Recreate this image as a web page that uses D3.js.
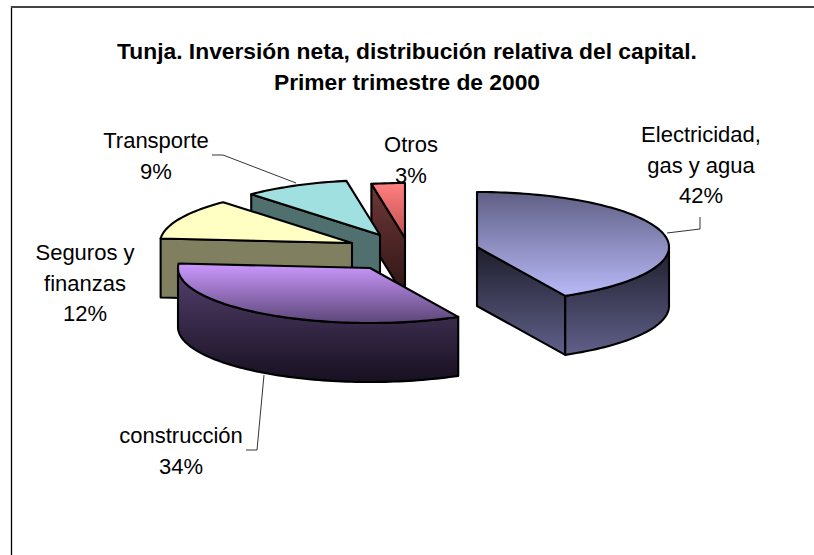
<!DOCTYPE html>
<html>
<head>
<meta charset="utf-8">
<script src="https://cdn.jsdelivr.net/npm/d3@7"></script>
<style>
  html, body { margin: 0; padding: 0; background: #fff; }
  svg { display: block; }
  text { font-family: "Liberation Sans", Arial, sans-serif; fill: #000; }
</style>
</head>
<body>
<div id="chart"></div>
<script>
// data
var categories = ["Electricidad, gas y agua", "construcción", "Seguros y finanzas", "Transporte", "Otros"];
var shares = [42.4, 33.9, 12, 8.9, 2.8];
var titleLines = ["Tunja. Inversión neta, distribución relativa del capital.", "Primer trimestre de 2000"];

// where each exploded slice has its vertex on the page
var sliceCenters = [[477, 247], [370, 268], [352, 243], [380, 235], [405, 238]];

// gradient stops: [top face top, top face bottom, wall top, wall bottom]
var sliceColors = [
  ["#5f5f85", "#b9b9f8", "#1e1e2c", "#60608a"],
  ["#cc99ff", "#5c4678", "#55406e", "#171020"],
  ["#ffffc4", "#ffffc4", "#808060", "#808060"],
  ["#a0e0e0", "#a0e0e0", "#507070", "#507070"],
  ["#ff8080", "#c05050", "#703838", "#2c1414"]
];

// labels and leader lines, one per slice
var labelLines = [
  ["Electricidad,", "gas y agua", "42%"],
  ["construcción", "34%"],
  ["Seguros y", "finanzas", "12%"],
  ["Transporte", "9%"],
  ["Otros", "3%"]
];
var labelAnchors = [[701, 142], [181, 443], [85, 260], [156, 148], [411, 152]];
var leaders = [
  [[700, 217], [700, 229], [667, 233]],
  [[246, 450], [257, 450], [264, 375]],
  [],
  [[212, 155], [223, 155], [296, 183]],
  []
];

var width = 814, height = 555;
var rx = 192, ry = 55, depth = 59;

var svg = d3.select("#chart").append("svg")
  .attr("width", width)
  .attr("height", height);

// frame of the chart area, only top and left are in the picture
svg.append("line").attr("x1", 11.5).attr("x2", 11.5).attr("y1", 6).attr("y2", height)
  .attr("stroke", "#000").attr("stroke-width", 1.3);
svg.append("line").attr("x1", 11).attr("x2", width).attr("y1", 7).attr("y2", 7)
  .attr("stroke", "#444").attr("stroke-width", 2);

svg.selectAll(".title")
  .data(titleLines)
  .enter()
  .append("text")
  .attr("class", "title")
  .attr("x", 407)
  .attr("y", function(d, i) { return 59 + i * 31; })
  .attr("text-anchor", "middle")
  .attr("font-size", "22.8px")
  .attr("font-weight", "bold")
  .text(function(d) { return d; });

var pie = d3.pie().sort(null).value(function(d) { return d; });
var arcs = pie(shares);

// angle 0 is up, going clockwise, squashed by the tilt of the pie
function project(center, angle, dy) {
  return [center[0] + rx * Math.sin(angle), center[1] - ry * Math.cos(angle) + dy];
}

function arcPoints(center, a0, a1, dy) {
  var n = Math.max(2, Math.ceil((a1 - a0) * 40));
  return d3.range(n + 1).map(function(i) {
    return project(center, a0 + (a1 - a0) * i / n, dy);
  });
}

var line = d3.line();
var defs = svg.append("defs");

function gradient(id, top, bottom) {
  var g = defs.append("linearGradient").attr("id", id)
    .attr("x1", 0).attr("y1", 0).attr("x2", 0).attr("y2", 1);
  g.append("stop").attr("offset", "0%").attr("stop-color", top);
  g.append("stop").attr("offset", "100%").attr("stop-color", bottom);
}

function strokeFace(pts, fill) {
  svg.append("path")
    .attr("d", line(pts) + "Z")
    .attr("fill", fill)
    .attr("stroke", "#000")
    .attr("stroke-width", 2.1)
    .attr("stroke-linejoin", "round");
}

// leader lines go under the pie
leaders.forEach(function(pts) {
  if (!pts.length) return;
  svg.append("path").attr("d", line(pts)).attr("fill", "none").attr("stroke", "#000").attr("stroke-width", 0.8);
});

// back slices first so that the front ones cover them
var drawOrder = [4, 3, 2, 1, 0];
drawOrder.forEach(function(i) {
  var d = arcs[i], c = sliceCenters[i], col = sliceColors[i];
  gradient("top" + i, col[0], col[1]);
  gradient("wall" + i, col[2], col[3]);
  var wallFill = "url(#wall" + i + ")";

  // radial cut faces, only the ones looking at the viewer
  if (Math.sin(d.startAngle) < -1e-6) {
    var s0 = project(c, d.startAngle, 0);
    strokeFace([c, s0, [s0[0], s0[1] + depth], [c[0], c[1] + depth]], wallFill);
  }
  if (Math.sin(d.endAngle) > 1e-6) {
    var e0 = project(c, d.endAngle, 0);
    strokeFace([c, e0, [e0[0], e0[1] + depth], [c[0], c[1] + depth]], wallFill);
  }

  // outer wall, the front half of the rim
  var from = Math.max(d.startAngle, Math.PI / 2), to = Math.min(d.endAngle, Math.PI * 3 / 2);
  if (to > from) {
    strokeFace(arcPoints(c, from, to, 0).concat(arcPoints(c, from, to, depth).reverse()), wallFill);
  }

  strokeFace([c].concat(arcPoints(c, d.startAngle, d.endAngle, 0)), "url(#top" + i + ")");
});

// data labels
labelLines.forEach(function(lines, i) {
  svg.append("g").selectAll("text")
    .data(lines)
    .enter()
    .append("text")
    .attr("x", labelAnchors[i][0])
    .attr("y", function(d, k) { return labelAnchors[i][1] + k * 30.5; })
    .attr("text-anchor", "middle")
    .attr("font-size", "22px")
    .text(function(d) { return d; });
});
</script>
</body>
</html>
